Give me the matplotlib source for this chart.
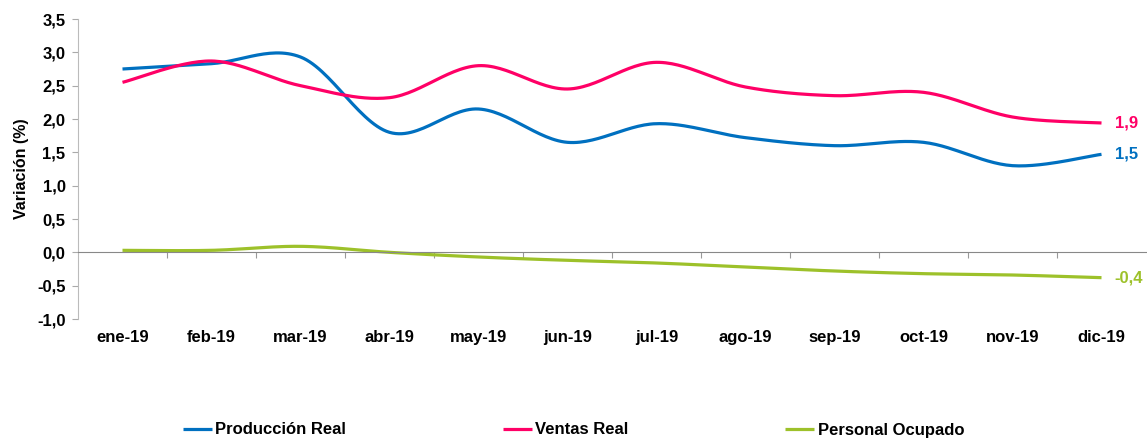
import numpy as np
import matplotlib.pyplot as plt

meses = ['ene-19', 'feb-19', 'mar-19', 'abr-19', 'may-19', 'jun-19',
         'jul-19', 'ago-19', 'sep-19', 'oct-19', 'nov-19', 'dic-19']
produccion = [2.75, 2.83, 2.93, 1.80, 2.15, 1.65, 1.93, 1.72, 1.60, 1.65, 1.30, 1.47]
ventas = [2.55, 2.87, 2.50, 2.32, 2.80, 2.45, 2.85, 2.48, 2.35, 2.40, 2.03, 1.94]
personal = [0.03, 0.03, 0.09, 0.00, -0.07, -0.12, -0.16, -0.22, -0.28, -0.32, -0.34, -0.38]
etiquetas_fin = ['1,5', '1,9', '-0,4']

c_prod = '#0070C0'
c_vent = '#FF0066'
c_pers = '#9DC12A'


def suave(x, y, n=30):
    # curva tipo excel (bezier con puntos de control catmull-rom)
    x = np.asarray(x, float)
    y = np.asarray(y, float)
    xs, ys = [], []
    for i in range(len(x) - 1):
        p0 = np.array([x[max(i - 1, 0)], y[max(i - 1, 0)]])
        p1 = np.array([x[i], y[i]])
        p2 = np.array([x[i + 1], y[i + 1]])
        p3 = np.array([x[min(i + 2, len(x) - 1)], y[min(i + 2, len(x) - 1)]])
        c1 = p1 + (p2 - p0) / 6
        c2 = p2 - (p3 - p1) / 6
        t = np.linspace(0, 1, n)[:, None]
        pts = (1 - t)**3 * p1 + 3 * (1 - t)**2 * t * c1 + 3 * (1 - t) * t**2 * c2 + t**3 * p2
        xs.extend(pts[:, 0])
        ys.extend(pts[:, 1])
    return xs, ys


plt.rcParams['font.family'] = ['Liberation Sans', 'DejaVu Sans']
plt.rcParams['font.weight'] = 'bold'

fig = plt.figure(figsize=(11.47, 4.38), dpi=100)
ax = fig.add_axes([78 / 1147, (438 - 319) / 438, 1068 / 1147, 300 / 438])

x = np.arange(len(meses)) + 0.5
series = [(produccion, c_prod, 'Producción Real'),
          (ventas, c_vent, 'Ventas Real'),
          (personal, c_pers, 'Personal Ocupado')]
for (vals, col, nom), et in zip(series, etiquetas_fin):
    sx, sy = suave(x, vals)
    ax.plot(sx, sy, color=col, lw=2.3, label=nom, solid_capstyle='butt')
    ax.text(x[-1] + 0.15, vals[-1], et, color=col, fontsize=12, fontweight='bold',
            va='center', ha='left')

ax.set_xlim(0, len(meses))
ax.set_ylim(-1.0, 3.5)
ax.set_yticks(np.arange(-1.0, 3.51, 0.5))
ax.set_yticklabels([f'{v:.1f}'.replace('.', ',') for v in np.arange(-1.0, 3.51, 0.5)],
                   fontsize=12, fontweight='bold')

ax.set_xticks(np.arange(1, len(meses)))
ax.set_xticklabels([])
ax.set_xticks(x, minor=True)
ax.set_xticklabels(meses, minor=True, fontweight='bold')
ax.tick_params(axis='x', which='major', length=4, color='#999999', direction='out')
ax.tick_params(axis='x', which='minor', length=0, pad=56, labelsize=12)
ax.tick_params(axis='y', length=4, color='#AAAAAA', pad=5)

for s in ['top', 'right']:
    ax.spines[s].set_visible(False)
ax.spines['bottom'].set_position(('data', 0))
ax.spines['bottom'].set_color('#888888')
ax.spines['left'].set_color('#BBBBBB')

ax.set_ylabel('Variación (%)', fontsize=11.5, fontweight='bold', labelpad=6)

fig.legend(loc='center', bbox_to_anchor=(0.5, 8 / 438), ncol=3,
           frameon=False, handlelength=1.75, handletextpad=0.2,
           columnspacing=9.4, prop={'weight': 'bold', 'size': 12})

fig.savefig('out.png', dpi=100)
